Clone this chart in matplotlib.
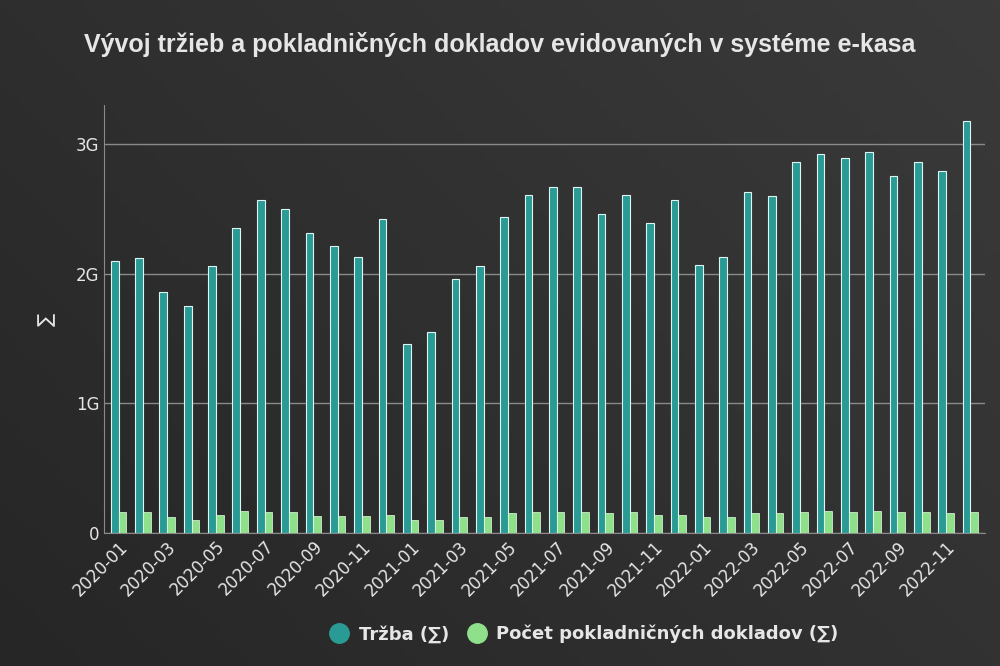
import matplotlib
matplotlib.use("Agg")
import matplotlib.pyplot as plt
import numpy as np
from matplotlib.lines import Line2D

months = [f"{y}-{m:02d}" for y in (2020, 2021, 2022) for m in range(1, 13)]
trzba_g = [2.10, 2.12, 1.86, 1.75, 2.06, 2.35, 2.57, 2.50, 2.31, 2.21, 2.13, 2.42,
           1.46, 1.55, 1.96, 2.06, 2.44, 2.61, 2.67, 2.67, 2.46, 2.61, 2.39, 2.57,
           2.07, 2.13, 2.63, 2.60, 2.86, 2.92, 2.89, 2.94, 2.75, 2.86, 2.79, 3.18]
doklady_g = [0.16, 0.16, 0.12, 0.10, 0.14, 0.17, 0.16, 0.16, 0.13, 0.13, 0.13, 0.14,
             0.10, 0.10, 0.12, 0.12, 0.15, 0.16, 0.16, 0.16, 0.15, 0.16, 0.14, 0.14,
             0.12, 0.12, 0.15, 0.15, 0.16, 0.17, 0.16, 0.17, 0.16, 0.16, 0.15, 0.16]
yticks = [0, 1, 2, 3]
ytick_labels = ["0", "1G", "2G", "3G"]

TEAL = "#2a9a94"
GREEN = "#8fe08a"
BG = "#2e2e2e"
TXT = "#e6e6e6"

fig = plt.figure(figsize=(10, 6.66), dpi=100)
fig.patch.set_facecolor(BG)
# subtle diagonal background gradient
bg = fig.add_axes([0, 0, 1, 1], zorder=-10)
gx, gy = np.meshgrid(np.linspace(0, 1, 200), np.linspace(0, 1, 200))
bg.imshow(gx * 0.6 + gy * 0.4, cmap=matplotlib.colors.LinearSegmentedColormap.from_list(
    "g", ["#262626", "#3a3a3a"]), aspect="auto", extent=[0, 1, 0, 1], origin="lower")
bg.axis("off")

ax = fig.add_axes([0.104, 0.2, 0.881, 0.642])
ax.set_facecolor("none")
x = np.arange(len(months))
w = 0.32
ax.bar(x - w / 2, trzba_g, width=w, color=TEAL, edgecolor="#dff5f3", linewidth=0.8, zorder=3)
ax.bar(x + w / 2, doklady_g, width=w, color=GREEN, edgecolor="#e8ffe6", linewidth=0.5, zorder=3)

ax.set_xlim(-0.6, len(months) - 0.4)
ax.set_ylim(0, 3.3)
ax.set_yticks(yticks)
ax.set_yticklabels(ytick_labels)
ax.yaxis.grid(True, color="#8a8a8a", linewidth=1, zorder=0)
ax.set_xticks(x[::2])
ax.set_xticklabels(months[::2], rotation=45, ha="right", rotation_mode="anchor")
ax.tick_params(colors=TXT, labelsize=12, length=0)
for s in ("top", "right"):
    ax.spines[s].set_visible(False)
for s in ("left", "bottom"):
    ax.spines[s].set_color("#8a8a8a")
ax.set_ylabel("∑", color=TXT, fontsize=14, labelpad=14)

fig.text(0.5, 0.922, "Vývoj tržieb a pokladničných dokladov evidovaných v systéme e-kasa",
         ha="center", color=TXT, fontsize=18, fontweight="bold", family="Liberation Sans")

handles = [Line2D([], [], marker="o", ls="", markersize=14, color=TEAL),
           Line2D([], [], marker="o", ls="", markersize=14, color=GREEN)]
leg = fig.legend(handles, ["Tržba (∑)", "Počet pokladničných dokladov (∑)"],
                 loc="center", bbox_to_anchor=(0.58, 0.048), ncol=2, frameon=False,
                 handletextpad=0.1, columnspacing=0.5, prop={"size": 13, "weight": "bold"})
for t in leg.get_texts():
    t.set_color(TXT)

fig.savefig("out.png", dpi=100, facecolor=BG)
